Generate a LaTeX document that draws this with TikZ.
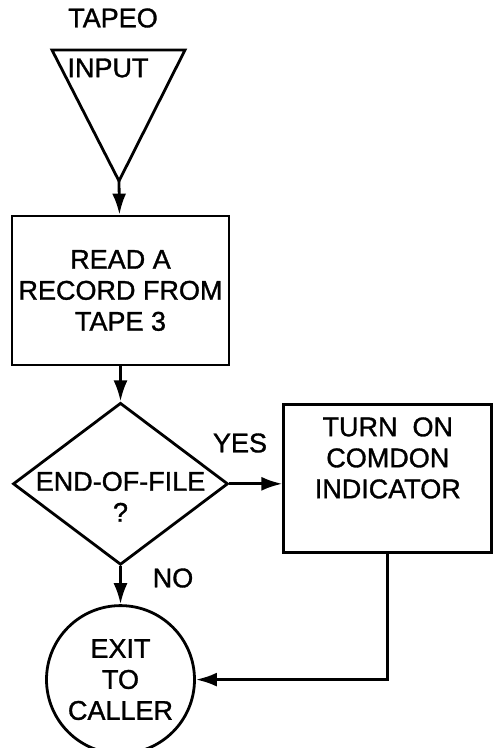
\documentclass[tikz,border=0pt]{standalone}
\usepackage{fontspec}
\setmainfont{Liberation Sans}[FakeBold=1.2]
\usetikzlibrary{shapes.geometric,arrows.meta,positioning}

\begin{document}
\begin{tikzpicture}[
    x=1pt, y=-1pt,
    line width=2.8pt,
    every node/.style={font=\fontsize{27}{31}\selectfont},
    box/.style={rectangle, draw, minimum width=217pt, minimum height=149pt, align=center, inner sep=0pt},
    decision/.style={diamond, draw, minimum width=215pt, minimum height=162pt, inner sep=0pt},
    terminal/.style={circle, draw, minimum size=148pt, align=center, inner sep=0pt},
    flow/.style={-{Latex[length=21pt,width=14pt]}}
]
    \useasboundingbox (0,0) rectangle (493,748);

    % Input tape
    \node (tapeo) at (113,18) {TAPEO};
    \coordinate (tapel) at (52,50);
    \coordinate (taper) at (185,50);
    \coordinate (tapeapex) at (119,181);
    \draw[line join=miter] (tapel) -- (taper) -- (tapeapex) -- cycle;
    \node (inputlbl) at (108,68) {INPUT};

    % Main flow
    \node[box] (read) at (120.5,290.5) {READ A\\RECORD FROM\\TAPE 3};
    \node[decision, below=35pt of read] (eof) {};
    \node[align=center, yshift=-13pt] (eoftext) at (eof) {END-OF-FILE\\?};
    \node[terminal, below=38pt of eof] (exit) {EXIT\\TO\\CALLER};

    % Branch
    \node[box, minimum width=208pt, minimum height=148pt, text depth=42pt, right=53pt of eof, yshift=5pt] (turn) {TURN\ \ ON\\COMDON\\INDICATOR};

    % Edges
    \draw[flow] (tapeapex) -- (read);
    \draw[flow] (read) -- (eof);
    \draw[flow] (eof.east) -- (eof.east -| turn.west);
    \draw[flow] (eof) -- (exit);
    \draw[flow] (turn.south) |- (exit.east);

    % Labels
    \node (yes) at (240,443) {YES};
    \node (no) at (173,578) {NO};
\end{tikzpicture}
\end{document}
